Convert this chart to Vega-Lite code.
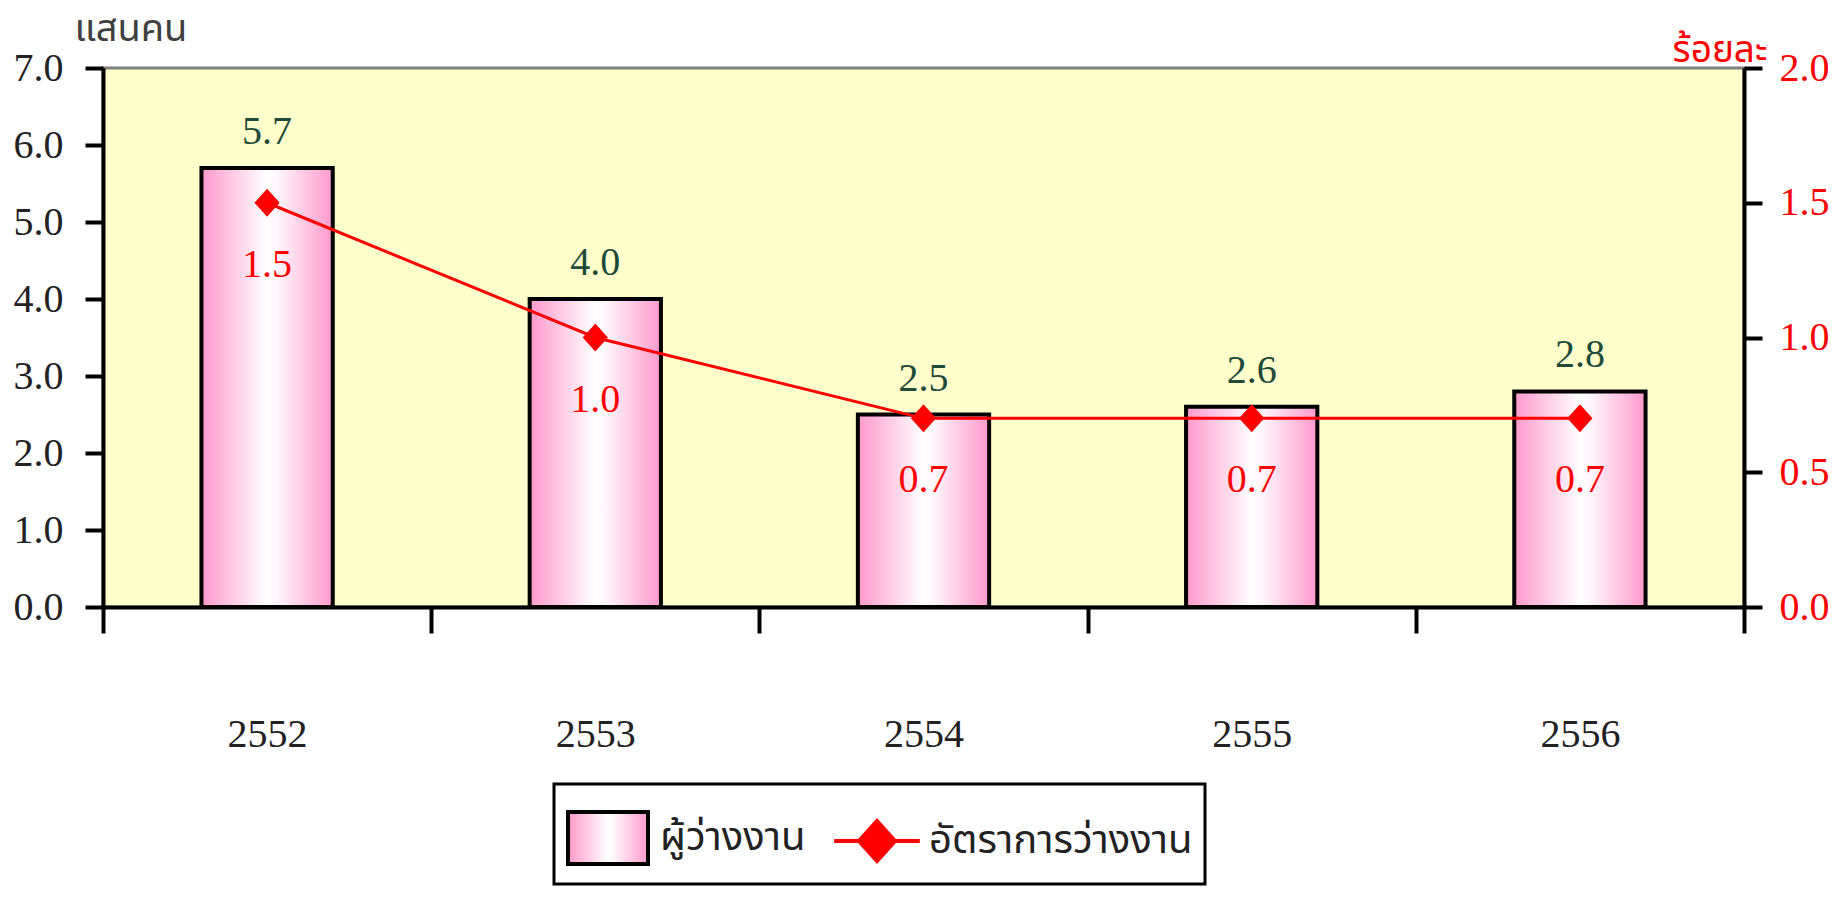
{
  "$schema": "https://vega.github.io/schema/vega-lite/v6.json",
  "width": 1641,
  "height": 539,
  "autosize": {"type": "none"},
  "padding": {"left": 103, "top": 68, "right": 91, "bottom": 290},
  "background": "white",
  "config": {
    "view": {"fill": "#FFFFCC", "stroke": "#808080", "strokeWidth": 3},
    "axis": {"grid": false},
    "legend": {"strokeWidth": 3}
  },
  "data": {
    "values": [
      {"year": "2552", "unemployed": 5.7, "rate": 1.5},
      {"year": "2553", "unemployed": 4.0, "rate": 1.0},
      {"year": "2554", "unemployed": 2.5, "rate": 0.7},
      {"year": "2555", "unemployed": 2.6, "rate": 0.7},
      {"year": "2556", "unemployed": 2.8, "rate": 0.7}
    ]
  },
  "encoding": {
    "x": {
      "field": "year",
      "type": "ordinal",
      "scale": {"paddingInner": 0, "paddingOuter": 0},
      "axis": {
        "title": null,
        "labelAngle": 0,
        "labelFont": "Liberation Serif",
        "labelFontSize": 40,
        "labelColor": "#222222",
        "labelPadding": 81,
        "tickBand": "extent",
        "tickSize": 26,
        "tickWidth": 4,
        "tickColor": "black",
        "domainColor": "black",
        "domainWidth": 4
      }
    }
  },
  "layer": [
    {
      "encoding": {
        "y": {
          "field": "unemployed",
          "type": "quantitative",
          "scale": {"domain": [0, 7], "nice": false},
          "axis": {
            "orient": "left",
            "title": "แสนคน",
            "titleAngle": 0,
            "titleAlign": "left",
            "titleBaseline": "alphabetic",
            "titleX": -29,
            "titleY": -28,
            "titleFont": "Tahoma, Noto Sans Thai, Noto Sans, sans-serif",
            "titleFontSize": 38,
            "titleFontWeight": "normal",
            "titleColor": "#404040",
            "values": [0, 1, 2, 3, 4, 5, 6, 7],
            "format": ".1f",
            "labelFont": "Liberation Serif",
            "labelFontSize": 40,
            "labelColor": "#222222",
            "labelPadding": 22,
            "tickSize": 18,
            "tickWidth": 4,
            "tickColor": "black",
            "domainColor": "black",
            "domainWidth": 4
          }
        }
      },
      "layer": [
        {
          "mark": {
            "type": "bar",
            "width": {"band": 0.4},
            "strokeWidth": 4
          },
          "encoding": {
            "fill": {
              "datum": "ผู้ว่างงาน",
              "type": "nominal",
              "scale": {
                "domain": ["ผู้ว่างงาน", "อัตราการว่างงาน"],
                "range": [
                  {"expr": "{gradient: 'linear', x1: 0, y1: 0, x2: 1, y2: 0, stops: [{offset: 0, color: '#ff99cc'}, {offset: 0.5, color: '#ffffff'}, {offset: 0.58, color: '#fff6fb'}, {offset: 1, color: '#ff99cc'}]}"},
                  "#ff0000"
                ]
              },
              "legend": {
                "orient": "none",
                "legendX": 451,
                "legendY": 716,
                "direction": "horizontal",
                "title": null,
                "strokeColor": "black",
                "padding": 12,
                "labelFont": "Tahoma, Noto Sans Thai, Noto Sans, sans-serif",
                "labelFontSize": 40,
                "labelColor": "#222222",
                "labelLimit": 500,
                "labelOffset": 10,
                "columnPadding": 20,
                "symbolSize": 6400,
                "symbolStrokeWidth": 4,
                "symbolOpacity": 1
              }
            },
            "stroke": {
              "datum": "ผู้ว่างงาน",
              "type": "nominal",
              "scale": {
                "domain": ["ผู้ว่างงาน", "อัตราการว่างงาน"],
                "range": ["#000000", "#ff0000"]
              }
            }
          }
        },
        {
          "mark": {
            "type": "text",
            "baseline": "middle",
            "dy": -36,
            "font": "Liberation Serif",
            "fontSize": 40,
            "color": "#1f4a3a"
          },
          "encoding": {"text": {"field": "unemployed", "type": "quantitative", "format": ".1f"}}
        }
      ]
    },
    {
      "encoding": {
        "y": {
          "field": "rate",
          "type": "quantitative",
          "scale": {"domain": [0, 2], "nice": false},
          "axis": {
            "orient": "right",
            "title": "ร้อยละ",
            "titleAngle": 0,
            "titleAlign": "right",
            "titleBaseline": "alphabetic",
            "titleX": 23,
            "titleY": -7,
            "titleFont": "Tahoma, Noto Sans Thai, Noto Sans, sans-serif",
            "titleFontSize": 37,
            "titleFontWeight": "normal",
            "titleColor": "#ff0000",
            "values": [0, 0.5, 1, 1.5, 2],
            "format": ".1f",
            "labelFont": "Liberation Serif",
            "labelFontSize": 40,
            "labelColor": "#ff0000",
            "labelPadding": 17,
            "tickSize": 18,
            "tickWidth": 4,
            "tickColor": "black",
            "domainColor": "black",
            "domainWidth": 4
          }
        }
      },
      "layer": [
        {
          "mark": {"type": "line", "strokeWidth": 3},
          "encoding": {
            "stroke": {"datum": "อัตราการว่างงาน", "type": "nominal"}
          }
        },
        {
          "mark": {"type": "point", "filled": true, "size": 3136, "strokeWidth": 0, "opacity": 1},
          "encoding": {
            "fill": {"datum": "อัตราการว่างงาน", "type": "nominal"},
            "shape": {
              "datum": "อัตราการว่างงาน",
              "type": "nominal",
              "scale": {
                "domain": ["ผู้ว่างงาน", "อัตราการว่างงาน"],
                "range": ["M-1,-0.65H1V0.65H-1Z", "M-1.07,0H1.07M0,-0.5L0.45,0L0,0.5L-0.45,0Z"]
              }
            }
          }
        },
        {
          "mark": {
            "type": "text",
            "baseline": "middle",
            "dy": 62,
            "font": "Liberation Serif",
            "fontSize": 40,
            "color": "#ff0000"
          },
          "encoding": {"text": {"field": "rate", "type": "quantitative", "format": ".1f"}}
        }
      ]
    }
  ],
  "resolve": {"scale": {"y": "independent"}}
}
